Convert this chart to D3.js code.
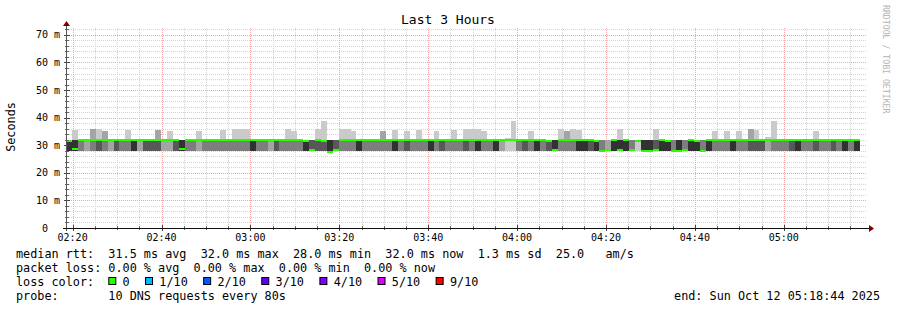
<!DOCTYPE html>
<html>
<head>
<meta charset="utf-8">
<script src="https://cdn.jsdelivr.net/npm/d3@7"></script>
<style>
  body { margin: 0; background: #fff; }
  svg text { font-family: "DejaVu Sans Mono", monospace; white-space: pre; }
</style>
</head>
<body>
<svg id="chart" width="897" height="310"></svg>
<script>
// time window of the graph
const endTime = new Date(2025, 9, 12, 5, 18, 44);
const startTime = new Date(endTime.getTime() - 3 * 3600 * 1000);
const firstStep = new Date(2025, 9, 12, 2, 18, 32);
const stepSec = 80;

// median rtt per 80s step (ms)
const medianRtt = [
  31.5, 28.5, 32, 32, 32, 32, 32, 32, 32, 32,
  32, 32, 32, 32, 32, 32, 32, 32, 32, 28.5,
  32, 32, 32, 32, 32, 32, 32, 32, 32, 32,
  32, 32, 32, 32, 32, 32, 32, 32, 32, 32,
  31.5, 28.3, 32, 31.5, 27.7, 28.3, 32, 32, 32, 32,
  32, 32, 32, 32, 32, 32, 32, 32, 32, 32,
  32, 32, 32, 32, 32, 32, 32, 32, 32, 32,
  32, 32, 32, 32, 32, 32, 32, 32, 32, 32,
  32, 31.5, 28.3, 32, 32, 32, 32, 32, 31.8, 31.5,
  27.8, 28.3, 32, 28.3, 32, 28.3, 31.5, 27.8, 27.8, 28.3,
  32, 31.7, 27.8, 27.8, 28.3, 32, 31.7, 28, 32, 32,
  32, 32, 32, 32, 32, 32, 32, 32, 32, 32,
  32, 32, 32, 32, 32, 32, 32, 32, 32, 32,
  32, 32, 32, 32
];

// slowest ping per step (ms)
const maxRtt = [
  32, 35.5, 32, 32, 36, 36, 35, 32, 32, 32,
  35.5, 32, 32, 32, 32, 35.5, 32, 35, 32, 32,
  32, 32, 35, 32, 32, 32, 35.5, 32, 36, 36,
  36, 32, 32, 32, 32, 32, 32, 36, 35, 32,
  32, 32, 36, 38.7, 32, 32, 36, 36, 35, 32,
  32, 32, 32, 35, 32, 35.7, 32, 35, 32, 35.7,
  32, 32, 35, 32, 32, 35.7, 32, 36, 36, 36,
  35, 32, 32, 32, 32.8, 38.7, 32, 32, 35, 32,
  32, 32, 32, 36, 35, 36, 35.5, 32, 32, 32,
  32, 32, 32, 36, 32, 32, 32, 32, 32, 36,
  32, 32, 32, 32, 32, 32, 32, 32, 32, 35,
  32, 35, 32, 35, 32, 36, 35.5, 32, 33, 38.7,
  32, 32, 32, 32, 32, 32, 35, 32, 32, 32,
  32, 32, 32, 32
];

// fastest ping per step (ms)
const minRtt = [
  28, 28, 28, 28, 28, 28, 28, 28, 28, 28,
  28, 28, 28, 28, 28, 28, 28, 28, 28, 28,
  28, 28, 28, 28, 28, 28, 28, 28, 28, 28,
  28, 28, 28, 28, 28, 28, 28, 28, 28, 28,
  28, 28, 28, 28, 27.5, 28, 28, 28, 28, 28,
  28, 28, 28, 28, 28, 28, 28, 28, 28, 28,
  28, 28, 28, 28, 28, 28, 28, 28, 28, 28,
  28, 28, 28, 28, 28, 28, 28, 28, 28, 28,
  28, 28, 28, 28, 28, 28, 28, 28, 28, 28,
  27.5, 28, 28, 28, 28, 28, 28, 27.5, 27.5, 28,
  28, 28, 27.5, 27.5, 28, 28, 28, 28, 28, 28,
  28, 28, 28, 28, 28, 28, 28, 28, 28, 28,
  28, 28, 28, 28, 28, 28, 28, 28, 28, 28,
  28, 28, 28, 28
];

// smoke density of the core band (0 light .. 4 dark)
const coreShade = [
  4, 4, 2, 1, 2, 3, 2, 1, 3, 2,
  2, 4, 1, 3, 3, 3, 1, 1, 3, 4,
  2, 2, 1, 2, 2, 2, 2, 2, 2, 2,
  2, 4, 2, 2, 1, 3, 2, 2, 2, 2,
  4, 3, 3, 3, 4, 3, 2, 2, 2, 4,
  2, 2, 2, 2, 2, 4, 2, 3, 2, 2,
  2, 4, 2, 3, 2, 2, 2, 3, 2, 4,
  2, 2, 4, 1, 0, 0, 2, 3, 2, 4,
  2, 3, 4, 2, 2, 2, 4, 4, 3, 4,
  2, 1, 4, 4, 4, 2, 0, 4, 4, 3,
  4, 4, 2, 4, 2, 4, 4, 2, 4, 2,
  2, 2, 4, 2, 2, 3, 3, 3, 1, 2,
  2, 2, 3, 4, 2, 2, 3, 2, 2, 3,
  2, 4, 2, 4
];

// smoke density of the upper outliers (0 light, 1 medium)
const upperShade = [
  0, 0, 0, 0, 1, 0, 1, 0, 0, 0,
  0, 0, 0, 0, 0, 1, 0, 0, 0, 0,
  0, 0, 0, 0, 0, 0, 0, 0, 0, 0,
  0, 0, 0, 0, 0, 0, 0, 0, 0, 0,
  0, 0, 0, 0, 0, 0, 0, 0, 0, 0,
  0, 0, 0, 1, 0, 0, 0, 0, 0, 0,
  0, 0, 0, 0, 0, 0, 0, 0, 0, 0,
  0, 0, 0, 0, 0, 0, 0, 0, 0, 0,
  0, 0, 0, 0, 1, 0, 0, 0, 0, 0,
  0, 0, 0, 0, 0, 0, 0, 0, 0, 0,
  0, 0, 0, 0, 0, 0, 0, 0, 0, 0,
  0, 0, 0, 0, 0, 1, 0, 0, 0, 0,
  0, 0, 0, 0, 0, 0, 0, 0, 0, 0,
  0, 0, 0, 0
];

const smokeColors = ["#cacaca", "#a4a4a4", "#7e7e7e", "#585858", "#323232"];
const lossLabels = ["0", "1/10", "2/10", "3/10", "4/10", "5/10", "9/10"];
const lossColors = ["#26ff00", "#00b8ff", "#0059ff", "#5e00ff", "#7e00ff", "#dd00ff", "#ff0000"];

const legendLines = [
  "median rtt:  31.5 ms avg  32.0 ms max  28.0 ms min  32.0 ms now  1.3 ms sd  25.0   am/s",
  "packet loss: 0.00 % avg  0.00 % max  0.00 % min  0.00 % now"
];
const probeText = "probe:       10 DNS requests every 80s";
const endText = "end: Sun Oct 12 05:18:44 2025";

const svg = d3.select("#chart");
const plotL = 67, plotR = 867, plotT = 28, plotB = 228;

const x = d3.scaleTime().domain([startTime, endTime]).range([plotL, plotR]);
const y = d3.scaleLinear().domain([0, 72.5]).range([plotB, plotT]);

svg.append("rect").attr("width", 897).attr("height", 310).attr("fill", "#fff");

// grid
const minorY = d3.range(0, 73, 2).filter(v => v % 10 !== 0);
const majorY = d3.range(0, 71, 10);
const minorX = d3.timeMinute.every(5).range(startTime, endTime).filter(d => d.getMinutes() % 20 !== 0);
const majorX = d3.timeMinute.every(20).range(startTime, endTime);

const grid = svg.append("g").attr("stroke-dasharray", "1,1").attr("stroke-width", 1);
grid.selectAll(".gy").data(minorY).join("line")
  .attr("x1", plotL).attr("x2", plotR)
  .attr("y1", d => Math.round(y(d)) + 0.5).attr("y2", d => Math.round(y(d)) + 0.5)
  .attr("stroke", "#d4d4d4");
grid.selectAll(".gx").data(minorX).join("line")
  .attr("x1", d => Math.round(x(d)) + 0.5).attr("x2", d => Math.round(x(d)) + 0.5)
  .attr("y1", plotT).attr("y2", plotB)
  .attr("stroke", "#d4d4d4");
grid.selectAll(".My").data(majorY.slice(1)).join("line")
  .attr("x1", plotL).attr("x2", plotR)
  .attr("y1", d => Math.round(y(d)) + 0.5).attr("y2", d => Math.round(y(d)) + 0.5)
  .attr("stroke", "#f2a4a4");
grid.selectAll(".Mx").data(majorX).join("line")
  .attr("x1", d => Math.round(x(d)) + 0.5).attr("x2", d => Math.round(x(d)) + 0.5)
  .attr("y1", plotT).attr("y2", plotB)
  .attr("stroke", "#f2a4a4");

// smoke + median
const steps = medianRtt.map((m, i) => ({
  t0: new Date(firstStep.getTime() + i * stepSec * 1000),
  t1: new Date(firstStep.getTime() + (i + 1) * stepSec * 1000),
  med: m, hi: maxRtt[i], lo: minRtt[i], core: coreShade[i], up: upperShade[i]
}));
const cx0 = d => Math.max(plotL, x(d.t0));
const cx1 = d => Math.min(plotR, x(d.t1));

const smoke = svg.append("g").attr("shape-rendering", "crispEdges");
smoke.selectAll(".outer").data(steps).join("rect")
  .attr("x", cx0).attr("width", d => cx1(d) - cx0(d))
  .attr("y", d => y(d.hi)).attr("height", d => y(d.lo) - y(d.hi))
  .attr("fill", d => smokeColors[d.up]);
smoke.selectAll(".core").data(steps).join("rect")
  .attr("x", cx0).attr("width", d => cx1(d) - cx0(d))
  .attr("y", y(32)).attr("height", d => y(d.lo) - y(32))
  .attr("fill", d => smokeColors[d.core]);
smoke.selectAll(".med").data(steps).join("rect")
  .attr("x", cx0).attr("width", d => cx1(d) - cx0(d))
  .attr("y", d => y(d.med) - 1).attr("height", 2)
  .attr("fill", lossColors[0]);

// axes
const axisG = svg.append("g").attr("shape-rendering", "crispEdges");
axisG.selectAll(".ty").data(minorY).join("line")
  .attr("x1", plotL - 2).attr("x2", plotL + 2)
  .attr("y1", d => Math.round(y(d)) + 0.5).attr("y2", d => Math.round(y(d)) + 0.5)
  .attr("stroke", "#666");
axisG.selectAll(".tY").data(majorY).join("line")
  .attr("x1", plotL - 3).attr("x2", plotL + 3)
  .attr("y1", d => Math.round(y(d)) + 0.5).attr("y2", d => Math.round(y(d)) + 0.5)
  .attr("stroke", "#444");
axisG.selectAll(".tx").data(minorX).join("line")
  .attr("x1", d => Math.round(x(d)) + 0.5).attr("x2", d => Math.round(x(d)) + 0.5)
  .attr("y1", plotB - 2).attr("y2", plotB + 2)
  .attr("stroke", "#666");
axisG.selectAll(".tX").data(majorX).join("line")
  .attr("x1", d => Math.round(x(d)) + 0.5).attr("x2", d => Math.round(x(d)) + 0.5)
  .attr("y1", plotB - 3).attr("y2", plotB + 3)
  .attr("stroke", "#444");
axisG.append("line").attr("x1", plotL - 0.5).attr("x2", plotL - 0.5)
  .attr("y1", plotB + 3).attr("y2", plotT - 3).attr("stroke", "#555");
axisG.append("line").attr("x1", plotL - 4).attr("x2", plotR + 2)
  .attr("y1", plotB + 0.5).attr("y2", plotB + 0.5).attr("stroke", "#111");
svg.append("path").attr("d", `M${plotL - 4},${plotT - 2}L${plotL + 3},${plotT - 2}L${plotL - 0.5},${plotT - 7}Z`).attr("fill", "#7f0000");
svg.append("path").attr("d", `M${plotR + 2},${plotB - 3}L${plotR + 2},${plotB + 4}L${plotR + 7},${plotB + 0.5}Z`).attr("fill", "#7f0000");

// tick labels
svg.selectAll(".ly").data(majorY).join("text")
  .attr("x", 60).attr("y", d => y(d) + 3.5)
  .attr("text-anchor", "end").attr("font-size", 10).attr("fill", "#000")
  .text(d => d === 0 ? "0  " : d + " m");
const fmt = d3.timeFormat("%H:%M");
svg.selectAll(".lx").data(majorX).join("text")
  .attr("x", d => x(d)).attr("y", 241)
  .attr("text-anchor", "middle").attr("font-size", 10).attr("fill", "#000")
  .text(fmt);

// title, axis label, watermark
svg.append("text").attr("x", 448).attr("y", 24).attr("text-anchor", "middle")
  .attr("font-size", 13).text("Last 3 Hours");
svg.append("text").attr("transform", "translate(15,127) rotate(-90)")
  .attr("text-anchor", "middle").attr("font-size", 11.8).text("Seconds");
svg.append("text").attr("transform", "translate(883,5) rotate(90)")
  .attr("font-size", 8.2).attr("fill", "#b4b4b4").text("RRDTOOL / TOBI OETIKER");

// legend
const lg = svg.append("g").attr("font-size", 11.8).attr("fill", "#000");
lg.selectAll(".ll").data(legendLines).join("text")
  .attr("x", 16).attr("y", (d, i) => 258 + i * 14).text(d => d);
lg.append("text").attr("x", 16).attr("y", 286).text("loss color:");
let cursor = 108.3;
const charW = 7.13;
lossLabels.forEach((lab, i) => {
  lg.append("rect").attr("x", cursor + 0.5).attr("y", 277.5).attr("width", 7).attr("height", 7)
    .attr("fill", lossColors[i]).attr("stroke", "#000");
  lg.append("text").attr("x", cursor + 14.3).attr("y", 286).text(lab);
  cursor += 14.3 + lab.length * charW + 15.3;
});
lg.append("text").attr("x", 16).attr("y", 300).text(probeText);
lg.append("text").attr("x", 880).attr("y", 300).attr("text-anchor", "end").text(endText);
</script>
</body>
</html>
